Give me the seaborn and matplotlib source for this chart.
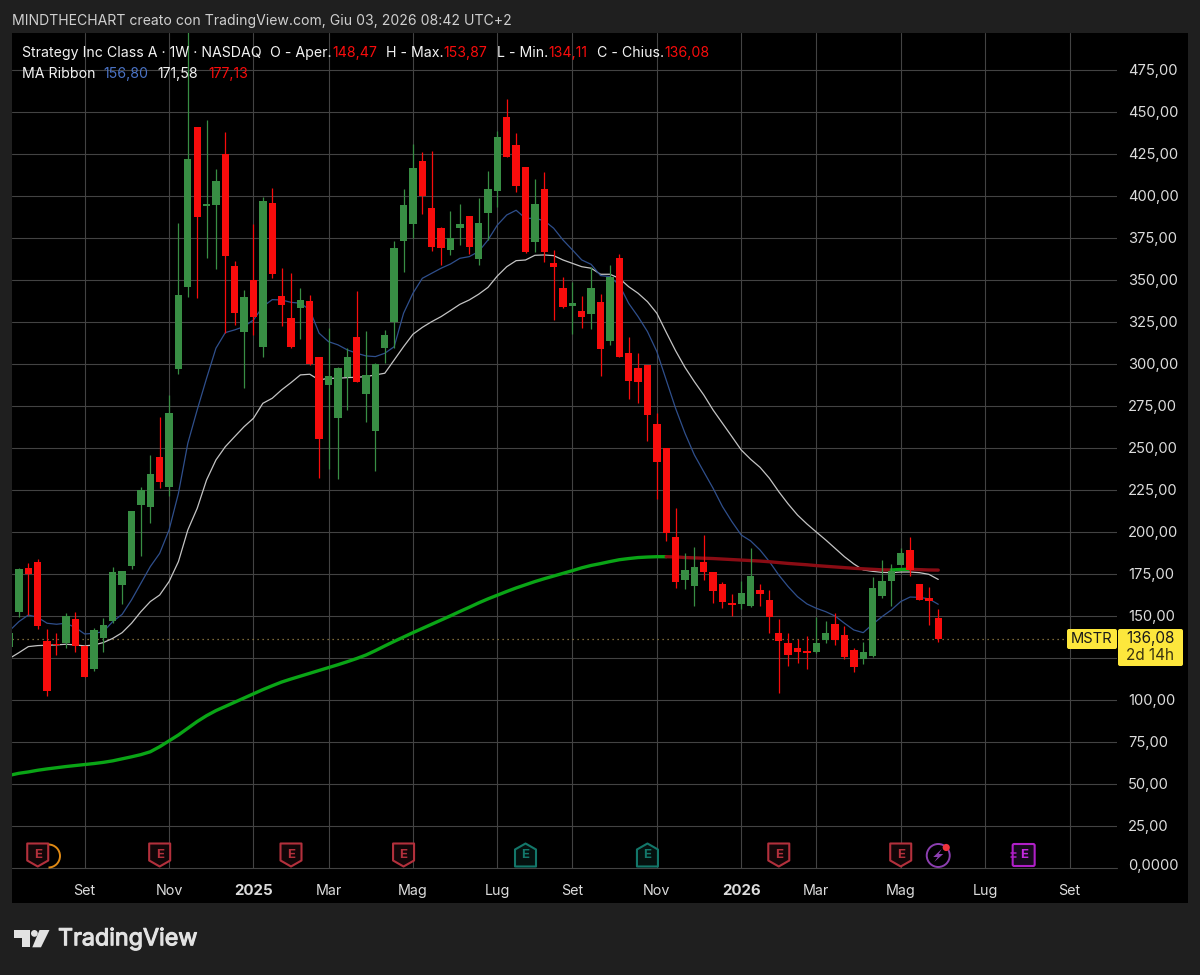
import numpy as np
import pandas as pd
import matplotlib
matplotlib.use('Agg')
import matplotlib.pyplot as plt
import matplotlib.dates as mdates
import matplotlib.patheffects as pe
from matplotlib.patches import Polygon, Rectangle, Circle, FancyBboxPatch, Arc
import seaborn as sns

# weekly candles (first one is cut by the left edge)
opens = [131.6, 152.0, 178.2, 181.8, 135.2, 133.2, 133.6, 148.0, 132.0, 118.5, 136.5, 147.1, 168.3, 179.6, 215.9,
         214.5, 244.7, 226.8, 296.7, 345.5, 440.7, 393.7, 394.3, 425.0, 358.2, 319.1, 349.8, 309.9, 395.5, 340.5,
         327.4, 333.4, 337.1, 303.8, 287.1, 267.9, 291.9, 315.9, 282.0, 259.9, 309.4, 325.0, 373.2, 383.1, 420.8,
         392.7, 381.0, 367.7, 380.6, 387.9, 362.5, 389.9, 402.6, 447.0, 430.2, 416.9, 372.6, 404.0, 360.1, 344.9,
         334.5, 331.4, 329.6, 336.9, 313.5, 363.1, 306.4, 297.2, 299.2, 264.1, 249.6, 197.0, 171.3, 167.9, 182.0,
         175.8, 168.7, 157.8, 157.0, 155.8, 165.3, 159.4, 139.5, 133.8, 131.0, 129.2, 128.6, 135.7, 145.3, 138.3,
         129.4, 124.2, 126.0, 161.9, 170.7, 180.4, 188.9, 168.9, 160.7, 148.47]
highs = [141.0, 178.2, 181.2, 183.6, 141.9, 139.9, 151.4, 152.4, 132.6, 142.5, 148.8, 179.2, 176.6, 212.5, 226.8,
         245.7, 268.1, 281.4, 383.6, 510.0, 441.1, 445.1, 415.7, 437.7, 361.1, 343.9, 383.2, 399.0, 404.4, 356.8,
         353.8, 344.9, 340.9, 303.8, 321.1, 298.3, 309.2, 343.5, 319.7, 300.2, 320.1, 373.2, 404.0, 430.6, 426.0,
         426.6, 381.2, 391.1, 394.8, 387.9, 398.4, 414.9, 438.7, 457.3, 437.1, 416.9, 409.7, 414.3, 367.7, 351.8,
         348.8, 340.3, 357.7, 341.5, 358.7, 365.3, 316.1, 306.2, 299.2, 270.5, 249.6, 213.9, 187.1, 191.1, 198.0,
         176.2, 170.3, 162.7, 170.7, 190.1, 168.7, 165.3, 147.8, 139.5, 135.9, 137.9, 149.4, 147.0, 151.8, 143.9,
         130.6, 134.4, 172.8, 183.2, 180.8, 190.1, 196.7, 169.1, 166.9, 153.87]
lows = [129.0, 149.4, 150.4, 141.9, 102.4, 126.4, 130.6, 128.6, 113.3, 117.3, 128.6, 145.5, 157.0, 178.0, 185.7,
        205.0, 225.8, 221.3, 293.9, 339.9, 338.9, 362.7, 356.4, 318.1, 323.1, 285.4, 317.1, 303.8, 351.2, 322.5,
        309.6, 314.5, 299.3, 231.8, 237.1, 231.6, 272.4, 289.1, 265.5, 236.1, 300.2, 309.1, 354.8, 374.6, 388.9,
        367.3, 358.7, 364.7, 370.6, 365.1, 358.7, 373.6, 393.1, 422.8, 402.4, 366.1, 366.3, 360.3, 326.0, 332.9,
        317.7, 321.4, 320.4, 292.7, 311.1, 304.0, 278.8, 276.8, 254.2, 219.3, 194.7, 166.3, 165.9, 155.8, 171.3,
        157.4, 154.4, 149.8, 153.8, 155.0, 156.0, 139.5, 104.2, 120.3, 121.7, 118.1, 127.6, 133.6, 132.6, 124.0,
        116.5, 121.3, 125.2, 160.5, 156.0, 180.2, 173.8, 159.2, 144.3, 134.11]
closes = [139.5, 177.6, 174.6, 144.1, 105.0, 132.4, 149.8, 132.0, 113.7, 141.5, 144.5, 176.2, 176.4, 212.5, 224.8,
          234.3, 229.8, 270.5, 340.7, 421.9, 387.3, 394.9, 408.6, 364.1, 330.0, 339.5, 327.6, 396.9, 353.4, 334.8,
          309.8, 337.7, 299.5, 255.0, 292.9, 297.5, 303.8, 289.3, 293.5, 300.0, 317.1, 368.7, 394.4, 416.3, 399.8,
          369.6, 369.1, 374.8, 382.9, 369.6, 383.9, 404.2, 434.7, 423.2, 405.8, 366.3, 395.2, 366.3, 357.7, 333.9,
          335.9, 327.8, 344.9, 308.7, 351.8, 304.2, 289.7, 288.9, 269.5, 241.7, 199.4, 170.3, 177.2, 179.0, 176.0,
          164.7, 158.4, 156.4, 163.3, 173.6, 162.9, 149.2, 134.8, 126.6, 128.6, 127.6, 133.6, 139.5, 135.5, 125.2,
          119.3, 128.6, 166.5, 170.9, 176.8, 187.5, 177.2, 159.4, 158.8, 136.08]

# MA ribbon lines
ma_fast = [141.1, 146.5, 150.4, 149.0, 145.5, 144.9, 145.5, 143.0, 139.1, 139.5, 140.5, 146.5, 150.8, 159.4, 169.3,
           179.2, 187.1, 201.0, 222.8, 252.6, 272.5, 291.3, 309.2, 318.5, 320.1, 322.1, 326.0, 334.0, 338.1, 337.9,
           336.5, 336.0, 332.0, 318.1, 313.1, 311.2, 308.2, 306.2, 304.6, 304.2, 306.2, 310.1, 330.0, 341.9, 350.8,
           353.8, 356.8, 359.3, 362.7, 363.7, 366.7, 373.6, 382.5, 388.5, 391.3, 386.5, 386.5, 385.1, 380.6, 373.6,
           367.7, 361.7, 359.1, 352.4, 351.8, 346.8, 335.9, 328.0, 319.1, 307.2, 290.3, 273.4, 258.6, 245.7, 235.7,
           225.8, 214.9, 206.0, 198.0, 194.5, 189.1, 182.2, 174.2, 167.3, 161.3, 157.0, 154.4, 152.4, 149.8, 145.5,
           141.5, 139.9, 144.9, 149.4, 153.4, 158.4, 161.1, 160.9, 160.0, 156.8]
ma_mid = [124.6, 128.0, 131.6, 132.2, 132.4, 132.6, 133.0, 132.6, 132.0, 132.6, 134.0, 136.5, 139.9, 145.5, 152.4,
          158.4, 162.3, 170.3, 182.2, 201.0, 213.9, 230.8, 242.7, 250.6, 256.6, 262.5, 267.5, 276.4, 279.4, 284.4,
          288.7, 293.3, 293.7, 290.3, 291.3, 291.3, 291.7, 291.9, 292.3, 293.3, 294.3, 302.2, 310.1, 317.5, 321.6,
          325.0, 328.0, 331.6, 335.3, 337.9, 341.3, 345.4, 352.2, 357.7, 361.3, 361.7, 364.5, 364.7, 364.3, 361.7,
          359.7, 357.7, 356.8, 353.2, 353.2, 350.8, 345.8, 341.9, 336.9, 330.0, 318.7, 307.7, 297.8, 289.3, 281.4,
          272.4, 264.5, 256.6, 248.6, 243.1, 238.3, 231.8, 223.8, 216.5, 209.9, 204.6, 199.8, 195.1, 190.1, 185.1,
          180.8, 177.2, 176.4, 175.8, 175.6, 176.0, 176.0, 175.6, 174.6, 171.58]
ma_slow = [55.0, 56.2, 57.0, 58.0, 58.8, 59.5, 60.2, 60.8, 61.4, 62.0, 62.7, 63.6, 64.8, 66.0, 67.3,
           69.0, 72.0, 75.5, 79.0, 83.0, 87.0, 90.5, 93.5, 96.0, 98.5, 101.0, 103.5, 106.0, 108.3, 110.5,
           112.3, 114.0, 115.7, 117.4, 119.1, 120.8, 122.6, 124.5, 126.6, 129.2, 132.0, 134.7, 137.3, 139.9, 142.4,
           144.9, 147.4, 149.9, 152.5, 155.0, 157.6, 160.0, 162.2, 164.4, 166.5, 168.4, 170.3, 172.0, 173.6, 175.2,
           176.8, 178.5, 179.9, 181.0, 182.2, 183.3, 184.0, 184.6, 184.9, 185.1, 185.1, 185.0, 184.6, 184.4, 184.2,
           184.0, 183.7, 183.4, 183.1, 182.8, 182.5, 182.1, 181.6, 181.1, 180.7, 180.3, 179.8, 179.4, 179.0, 178.6,
           178.2, 177.9, 177.6, 177.3, 177.2, 177.5, 177.6, 177.4, 177.2, 177.13]

weeks = pd.date_range('2024-07-08', periods=len(closes), freq='7D')
data = pd.DataFrame({'week': weeks, 'open': opens, 'high': highs, 'low': lows, 'close': closes,
                     'fast': ma_fast, 'mid': ma_mid, 'slow': ma_slow})

price_ticks = list(range(25, 500, 25))
tick_dates = ['2024-09-02', '2024-11-04', '2025-01-06', '2025-03-03', '2025-05-05', '2025-07-07', '2025-09-01',
              '2025-11-03', '2026-01-05', '2026-03-02', '2026-05-04', '2026-07-06', '2026-09-07']
tick_names = ['Set', 'Nov', '2025', 'Mar', 'Mag', 'Lug', 'Set', 'Nov', '2026', 'Mar', 'Mag', 'Lug', 'Set']
last_price = 136.08

earn_red = ['2024-07-29', '2024-10-28', '2025-02-03', '2025-04-28', '2026-02-02', '2026-05-04']
earn_green = ['2025-07-28', '2025-10-27']
earn_next = '2026-08-03'
flash_date = '2026-06-01'

RED = '#f80c0c'
GREEN = '#388e44'
TEXT = '#dcdcdc'
FONT = 'Inter'

sns.set_theme(style='darkgrid', rc={
    'axes.facecolor': '#000000',
    'figure.facecolor': '#1f1f1f',
    'grid.color': '#434343',
    'grid.linewidth': 0.8,
    'axes.edgecolor': '#000000',
})
plt.rcParams['font.family'] = [FONT, 'DejaVu Sans']

W, H = 1200, 975
fig = plt.figure(figsize=(W / 100, H / 100), dpi=100)
fig.patches.append(Rectangle((12 / W, 1 - 903 / H), 1176 / W, 870 / H, transform=fig.transFigure,
                             facecolor='black', edgecolor='none', zorder=-1))
ax = fig.add_axes([12 / W, 1 - 867.7 / H, 1105 / W, 834.7 / H])

# MA ribbon, under the candles
sns.lineplot(data=data, x='week', y='mid', color='#c4c4c4', linewidth=0.9, ax=ax, zorder=2)
sns.lineplot(data=data, x='week', y='fast', color='#2f4f8c', linewidth=0.9, ax=ax, zorder=2)

# the slow line is green while rising, dark red while falling
slope = data['slow'].diff().bfill() >= 0
start = 0
for i in range(1, len(data) + 1):
    if i == len(data) or slope[i] != slope[start]:
        part = data.iloc[max(start - 1, 0):i]
        sns.lineplot(data=part, x='week', y='slow', color='#0aa516' if slope[start] else '#8a0c14',
                     linewidth=2.4, ax=ax, zorder=3)
        start = i

up = data['close'] >= data['open']
colors = np.where(up, GREEN, RED)
ax.vlines(data['week'], data['low'], data['high'], colors=colors, linewidth=0.9, zorder=4)
body_low = data[['open', 'close']].min(axis=1)
body_high = data[['open', 'close']].max(axis=1)
ax.bar(data['week'], body_high - body_low, bottom=body_low, width=5.5, color=colors, linewidth=0, zorder=5)

ax.axhline(last_price, color='#a08a4a', linewidth=0.9, linestyle=(0, (1, 3)), zorder=1)
ax.axhline(0, color='#434343', linewidth=0.8, clip_on=False)

ax.set_ylim(0, 496.8)
ax.set_xlim(pd.Timestamp('2024-07-15') - pd.Timedelta(days=5.2), pd.Timestamp('2024-07-15') + pd.Timedelta(days=819.4))
ax.set_xlabel('')
ax.set_ylabel('')
ax.set_xticks(pd.to_datetime(tick_dates))
ax.set_xticklabels(tick_names, fontsize=10.3, color=TEXT)
for lab in ax.get_xticklabels():
    if lab.get_text().startswith('20'):
        lab.set_fontweight('bold')
        lab.set_fontsize(10.8)
ax.yaxis.tick_right()
ax.set_yticks(price_ticks)
# the 125 label sits behind the yellow price badge in the reference
ax.set_yticklabels(['' if p == 125 else f'{p},00' for p in price_ticks], fontsize=10.6, color=TEXT)
ax.tick_params(axis='both', length=0)
ax.tick_params(axis='x', pad=12)
ax.tick_params(axis='y', pad=8)
for s in ax.spines.values():
    s.set_visible(False)

# overlay in pixel coordinates for header, legend, badges and icons
ov = fig.add_axes([0, 0, 1, 1], facecolor='none')
ov.set_xlim(0, W)
ov.set_ylim(H, 0)
ov.axis('off')


def date_px(d):
    return ax.transData.transform((mdates.date2num(pd.Timestamp(d)), 0))[0]


def label(x, y, s, color=TEXT, size=10.2, **kw):
    ov.text(x, y, s, color=color, fontsize=size, va='center', ha=kw.pop('ha', 'left'), **kw)


label(12, 21, 'MINDTHECHART creato con TradingView.com, Giu 03, 2026 08:42 UTC+2', color='#cfcfcf', size=10.1)
label(1128, 866, '0,0000', size=10.6)

ROW1, ROW2 = 53, 74
label(22, ROW1, 'Strategy Inc Class A · 1W · NASDAQ', color='#f2f2f2')
label(270, ROW1, 'O - Aper.', color='#f2f2f2')
label(332, ROW1, '148,47', color=RED)
label(386, ROW1, 'H - Max.', color='#f2f2f2')
label(443, ROW1, '153,87', color=RED)
label(497, ROW1, 'L - Min.', color='#f2f2f2')
label(548, ROW1, '134,11', color=RED)
label(597, ROW1, 'C - Chius.', color='#f2f2f2')
label(664, ROW1, '136,08', color=RED)
label(22, ROW2, 'MA Ribbon', color='#f2f2f2')
label(103, ROW2, '156,80', color='#4a72c4')
label(157, ROW2, '171,58', color='#f2f2f2')
label(208, ROW2, '177,13', color=RED)

# price badges
YELLOW = '#fde73c'
for x0, y0, bw, bh in [(1067, 629, 50, 20), (1118, 629, 65, 37)]:
    ov.add_patch(FancyBboxPatch((x0 + 2, y0 + 2), bw - 4, bh - 4, boxstyle='round,pad=2',
                                facecolor=YELLOW, edgecolor='none', zorder=6))
label(1092, 639, 'MSTR', color='#1a1a1a', ha='center', zorder=7, size=10.6)
label(1150.5, 638, '136,08', color='#1a1a1a', ha='center', zorder=7, size=11)
label(1150.5, 655, '2d 14h', color='#3a3410', ha='center', zorder=7, size=11)


# earnings marks
def badge(x, points_up, color, fill):
    top, bot = 843.5, 866.5
    half = 10.5
    if points_up:
        pts = [(x - half, bot), (x + half, bot), (x + half, top + 6), (x, top), (x - half, top + 6)]
    else:
        pts = [(x - half, top), (x + half, top), (x + half, bot - 6), (x, bot), (x - half, bot - 6)]
    ov.add_patch(Polygon(pts, closed=True, facecolor=fill, edgecolor=color, linewidth=1.5, joinstyle='round', zorder=4))
    ov.text(x, 855, 'E', color=color, fontsize=9.5, fontweight='bold', ha='center', va='center', zorder=5)


ov.add_patch(Arc((37.5 + 11, 856), 23, 23, theta1=-90, theta2=90, edgecolor='#e08a14', linewidth=1.4, zorder=3))
for d in earn_red:
    badge(date_px(d), False, '#b3303c', '#120608')
for d in earn_green:
    badge(date_px(d), True, '#13776a', '#04100e')

# flash mark and the next earnings date
fx = date_px(flash_date)
ov.add_patch(Circle((fx, 855.5), 11.5, facecolor='none', edgecolor='#8c3fb0', linewidth=1.4, zorder=4))
ov.add_patch(Polygon([(fx + 3.5, 849), (fx - 5, 857), (fx - 0.5, 857), (fx - 4, 862), (fx + 5, 854), (fx + 0.5, 854)],
                     closed=True, facecolor='#8c3fb0', edgecolor='none', zorder=5))
ov.add_patch(Circle((fx + 8, 847.5), 3.6, facecolor='#f0333d', edgecolor='none', zorder=6))

nx = date_px(earn_next)
ov.add_patch(FancyBboxPatch((nx - 8.5, 845.5), 19, 19, boxstyle='round,pad=1.5', facecolor='#160a1c',
                            edgecolor='#b01fc8', linewidth=1.5, zorder=4))
ov.text(nx + 1, 855, 'E', color='#c42ade', fontsize=9.5, fontweight='bold', ha='center', va='center', zorder=5)
for dy in (-1.8, 1.8):
    ov.plot([nx - 11.5, nx - 6.5], [855 + dy, 855 + dy], color='#b01fc8', linewidth=1.1, zorder=6)

# TradingView mark
LOGO = '#e2e2e2'
ov.add_patch(Polygon([(14.3, 930), (30, 930), (30, 947.3), (22.3, 947.3), (22.3, 937.7), (14.3, 937.7)],
                     closed=True, facecolor=LOGO, edgecolor='none'))
ov.add_patch(Circle((34.4, 933.4), 3.4, facecolor=LOGO, edgecolor='none'))
ov.add_patch(Polygon([(39.5, 930), (49.5, 930), (41, 947.3), (32.3, 947.3)], closed=True, facecolor=LOGO, edgecolor='none'))
ov.text(58, 939, 'TradingView', color=LOGO, fontsize=16.8, va='center', ha='left',
        path_effects=[pe.withStroke(linewidth=0.8, foreground=LOGO)])

fig.savefig('out.png', dpi=100, facecolor=fig.get_facecolor())
